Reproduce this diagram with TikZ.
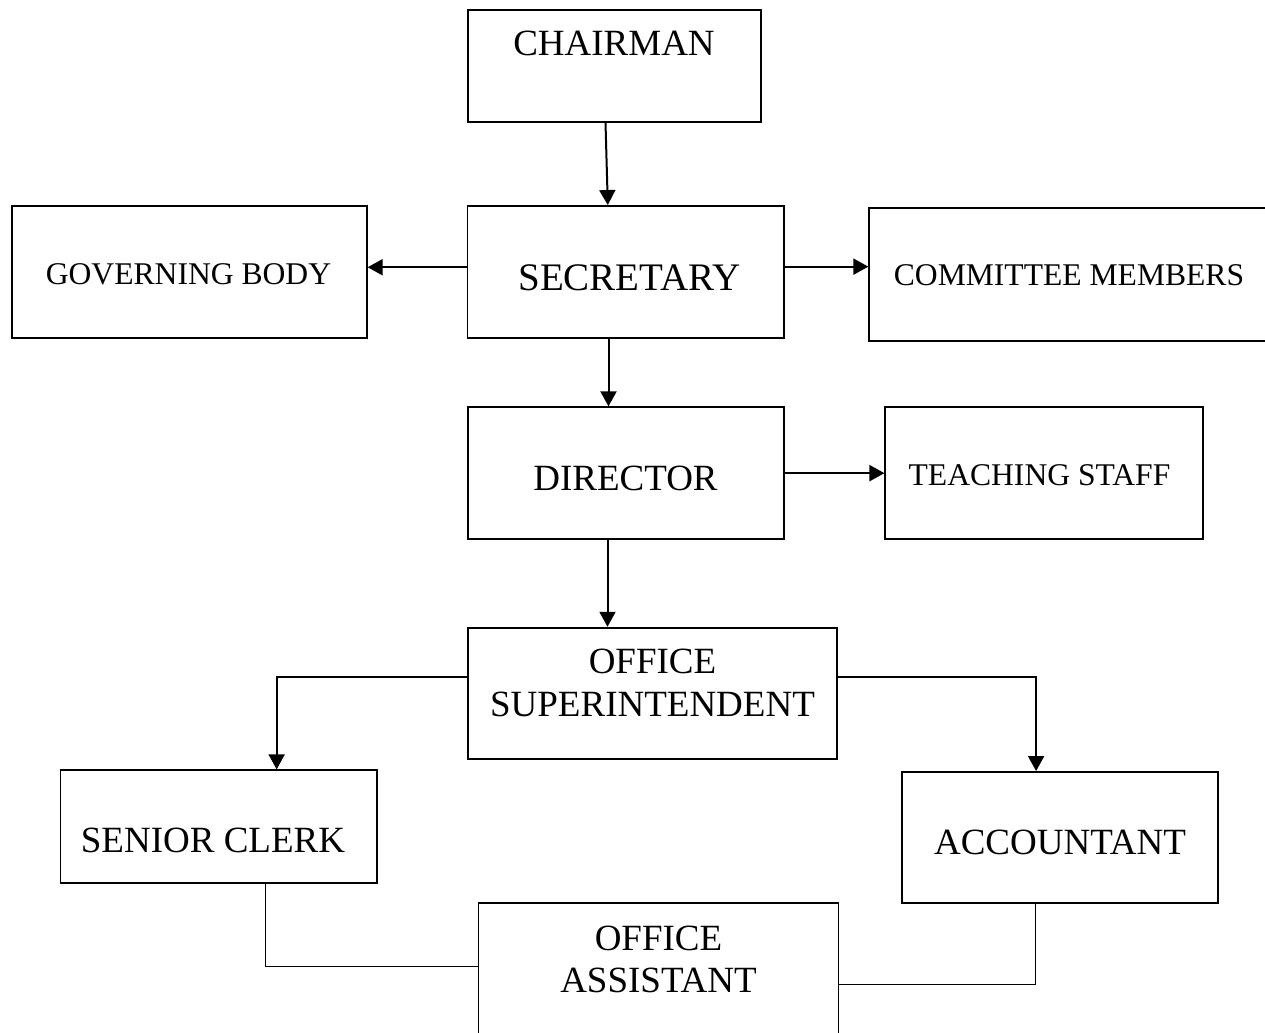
\documentclass[tikz,border=0pt]{standalone}
\usepackage{fontspec}
\setmainfont{Liberation Serif}
\usetikzlibrary{arrows.meta,fit}

\begin{document}
\begin{tikzpicture}[line cap=round,line join=miter,>={Triangle[length=7.5pt,width=8pt]},x=0.5pt,y=-0.5pt,
		box/.style={draw,rectangle,line width=0.95pt,inner sep=0pt},
		lbl/.style={anchor=north,inner sep=0pt,align=center},
		big/.style={font=\fontsize{18.5}{21.65}\selectfont},
		small/.style={font=\fontsize{15.8}{19}\selectfont},
		arr/.style={->,line width=1pt},
		thinline/.style={line width=0.45pt}]
	\useasboundingbox (0,0) rectangle (1265,1033);
	\clip (0,0) rectangle (1265,1033);
	% boxes
	\node[box,fit={(467.7,10) (760.7,121.7)}] (chair) {};
	\node[box,fit={(467.5,206) (784.3,337.7)}] (sec) {};
	\node[box,fit={(11.7,206) (366.7,337.7)}] (gov) {};
	\node[box,fit={(869.3,208.3) (1280,340.7)}] (com) {};
	\node[box,fit={(468,407.3) (784.4,539)}] (dir) {};
	\node[box,fit={(885.4,407.3) (1202.8,539)}] (teach) {};
	\node[box,fit={(468,627.7) (837.4,759.3)}] (sup) {};
	\node[box,fit={(60.5,770.3) (376.8,882.7)}] (clerk) {};
	\node[box,fit={(902,772) (1218.2,903.3)}] (acct) {};
	\node[box,fit={(478.5,903.3) (838.5,1045)}] (oa) {};
	% texts
	\node[lbl,big] (chairtxt) at (614,30.7) {CHAIRMAN};
	\node[lbl,font=\fontsize{19.5}{22}\selectfont] (sectxt) at (629.5,264) {SECRETARY};
	\node[lbl,small] (govtxt) at (188.5,262.7) {GOVERNING BODY};
	\node[lbl,small] (comtxt) at (1069,264) {COMMITTEE MEMBERS};
	\node[lbl,big] (dirtxt) at (625.5,465.7) {DIRECTOR};
	\node[lbl,small] (teachtxt) at (1039.5,464.3) {TEACHING STAFF};
	\node[lbl,big] (suptxt) at (652.5,648.3) {OFFICE\\SUPERINTENDENT};
	\node[lbl,big] (clerktxt) at (213,827.7) {SENIOR CLERK};
	\node[lbl,big] (accttxt) at (1060,829.3) {ACCOUNTANT};
	\node[lbl,font=\fontsize{18.5}{21}\selectfont] (oatxt) at (658.5,925.7) {OFFICE\\ASSISTANT};
	% connectors
	\draw[arr] ([xshift=-4.35pt]chair.south) -- ([xshift=-9.05pt]sec.north);
	\draw[arr] ([yshift=2.3pt]sec.west) -- ([yshift=2.3pt]sec.west -| gov.east);
	\draw[arr] ([yshift=2.6pt]sec.east) -- ([yshift=2.6pt]sec.east -| com.west);
	\draw[arr] ([xshift=-8.7pt]sec.south) -- ([xshift=-8.7pt]sec.south |- dir.north);
	\draw[arr] (dir.east) -- (dir.east -| teach.west);
	\draw[arr] ([xshift=-9.35pt]dir.south) -- ([xshift=-9.35pt]dir.south |- sup.north);
	\draw[arr] ([yshift=8.25pt]sup.west) -| ([xshift=29pt]clerk.north);
	\draw[arr] ([yshift=8.25pt]sup.east) -| ([xshift=-12pt]acct.north);
	\draw[thinline] ([xshift=23.2pt]clerk.south) |- ([yshift=3.65pt]oa.west);
	\draw[thinline] ([xshift=-12.35pt]acct.south) |- ([yshift=-5pt]oa.east);
\end{tikzpicture}
\end{document}
